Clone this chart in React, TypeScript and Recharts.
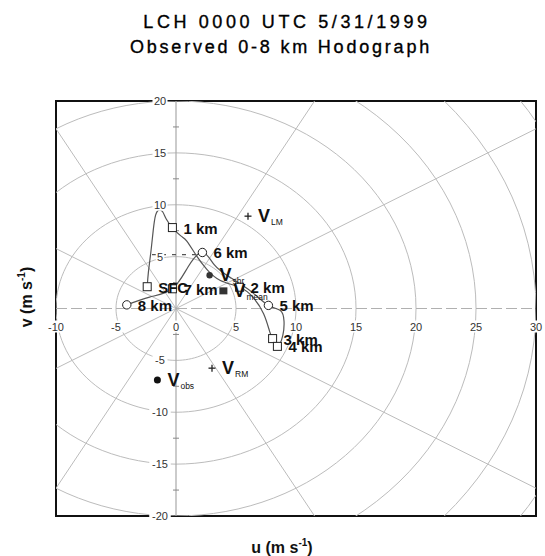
import React from "react";
import { ComposedChart, Line, Scatter, XAxis, YAxis, ReferenceArea } from "recharts";

const W = 545;
const H = 556;
const FONT = "'Liberation Sans', Arial, Helvetica, sans-serif";

const TITLE_LINES = ["LCH 0000 UTC 5/31/1999", "Observed 0-8 km Hodograph"];

const U_DOMAIN = [-10, 30];
const V_DOMAIN = [-20, 20];
const U_TICKS = [-10, -5, 0, 5, 10, 15, 20, 25, 30];
const V_TICKS = [-20, -15, -10, -5, 5, 10, 15, 20];
const V_MINOR = [-17.5, -12.5, -7.5, -2.5, 2.5, 7.5, 12.5, 17.5];
const RING_RADII = [5, 10, 15, 20, 25, 30, 35];
const SPOKE_ANGLES = [30, 60, 120, 150, 210, 240, 300, 330];

// hodograph trace (u, v in m/s)
const HODO_U = [-2.4, -2.3, -2.1, -1.9, -1.7, -1.4, -1.1, -0.8, -0.3, 0.4, 0.9, 1.7, 2.55, 3.7, 5.3, 6.4, 7.3, 7.8, 8.05, 8.45, 8.9, 9.0, 8.7, 7.7, 6.3, 4.5, 3.2, 2.2, 1.0, -0.3, -2.2, -4.1];
const HODO_V = [2.1, 3.5, 5.4, 7.5, 9.0, 9.5, 9.3, 8.6, 7.8, 7.0, 6.5, 5.1, 3.8, 2.7, 2.05, 1.1, -0.5, -2.2, -2.9, -3.65, -2.6, -1.2, -0.2, 0.3, 1.6, 3.0, 4.2, 5.4, 4.0, 1.9, 1.1, 0.35];

// height markers
const LEVEL_NAMES = ["SFC", "1 km", "2 km", "3 km", "4 km", "5 km", "6 km", "7 km", "8 km"];
const LEVEL_U = [-2.4, -0.3, 5.3, 8.05, 8.45, 7.7, 2.2, -0.3, -4.1];
const LEVEL_V = [2.1, 7.8, 2.05, -2.9, -3.65, 0.3, 5.4, 1.9, 0.35];
const LEVEL_MARK = ["s", "s", "s", "s", "s", "c", "c", "s", "c"];

// storm motion / mean wind markers
const STORM_SUB = ["LM", "RM", "obs", "shr", "mean"];
const STORM_U = [6.0, 3.0, -1.55, 2.8, 3.95];
const STORM_V = [8.9, -5.75, -6.9, 3.2, 1.7];
const STORM_MARK = ["plus", "plus", "dot", "dot", "sq"];

// dashed segment near v = 5
const DASH_U = [-2.0, 2.0];
const DASH_V = [5.2, 5.2];

const GRID = "#bcbcbc";

const ringData = RING_RADII.map((r) => {
  const pts: { u: number; v: number }[] = [];
  for (let a = 0; a <= 360; a += 3) {
    const t = (a * Math.PI) / 180;
    pts.push({ u: r * Math.cos(t), v: r * Math.sin(t) });
  }
  return pts;
});
const spokeData = SPOKE_ANGLES.map((a) => {
  const t = (a * Math.PI) / 180;
  return [
    { u: 0, v: 0 },
    { u: 60 * Math.cos(t), v: 60 * Math.sin(t) },
  ];
});
const hAxisData = [{ u: U_DOMAIN[0], v: 0 }, { u: U_DOMAIN[1], v: 0 }];
const vAxisData = [{ u: 0, v: V_DOMAIN[0] }, { u: 0, v: V_DOMAIN[1] }];
const minorData = V_MINOR.map((v) => ({ u: 0, v }));
const uLabelData = U_TICKS.map((u) => ({ u, v: 0, t: String(u) }));
const vLabelData = V_TICKS.map((v) => ({ u: 0, v, t: String(v) }));
const hodoData = HODO_U.map((u, i) => ({ u, v: HODO_V[i] }));
const levelData = LEVEL_NAMES.map((n, i) => ({ u: LEVEL_U[i], v: LEVEL_V[i], t: n, m: LEVEL_MARK[i] }));
const stormData = STORM_SUB.map((s, i) => ({ u: STORM_U[i], v: STORM_V[i], t: s, m: STORM_MARK[i] }));
const dashData = DASH_U.map((u, i) => ({ u, v: DASH_V[i] }));

const MinorTick = (p: any) => (
  <line x1={p.cx - 3} x2={p.cx + 3} y1={p.cy} y2={p.cy} stroke="#888" strokeWidth={1} />
);

const ULabel = (p: any) => {
  const t = p.payload.t;
  const w = t.length * 6.5 + 2;
  return (
    <g>
      <rect x={p.cx - w / 2} y={p.cy + 12} width={w} height={12} fill="#fff" />
      <text x={p.cx} y={p.cy + 22} textAnchor="middle" fontSize={11} fontFamily={FONT} fill="#333">
        {t}
      </text>
    </g>
  );
};

const VLabel = (p: any) => {
  const t = p.payload.t;
  const w = t.length * 6.5 + 2;
  return (
    <g>
      <rect x={p.cx - 16 - w / 2} y={p.cy - 6} width={w} height={12} fill="#fff" />
      <text x={p.cx - 16} y={p.cy + 4} textAnchor="middle" fontSize={11} fontFamily={FONT} fill="#333">
        {t}
      </text>
    </g>
  );
};

const LevelMark = (p: any) => {
  const { cx, cy, payload } = p;
  return (
    <g>
      {payload.m === "s" ? (
        <rect x={cx - 4} y={cy - 4} width={8} height={8} fill="#fff" stroke="#222" strokeWidth={1} />
      ) : (
        <circle cx={cx} cy={cy} r={4.2} fill="#fff" stroke="#222" strokeWidth={1} />
      )}
    </g>
  );
};

const LevelLabel = (p: any) => {
  const { cx, cy, payload } = p;
  return (
    <text x={cx + 11} y={cy + 6} fontSize={15} fontWeight="bold" fontFamily={FONT} fill="#111">
      {payload.t}
    </text>
  );
};

const StormMark = (p: any) => {
  const { cx, cy, payload } = p;
  let mark: React.ReactNode = null;
  if (payload.m === "plus") {
    mark = (
      <g stroke="#222" strokeWidth={1.3}>
        <line x1={cx - 3.5} x2={cx + 3.5} y1={cy} y2={cy} />
        <line x1={cx} x2={cx} y1={cy - 3.5} y2={cy + 3.5} />
      </g>
    );
  } else if (payload.m === "dot") {
    mark = <circle cx={cx} cy={cy} r={payload.t === "obs" ? 3.5 : 3.2} fill={payload.t === "obs" ? "#111" : "#333"} />;
  } else {
    mark = <rect x={cx - 4} y={cy - 3.5} width={8} height={7} fill="#333" />;
  }
  return (
    <g>
      {mark}
      <text x={cx + 10} y={cy + 6} fontFamily={FONT} fill="#111" fontWeight="bold">
        <tspan fontSize={18}>V</tspan>
        <tspan fontSize={8.5} dx={1} dy={3} fontWeight="normal">
          {payload.t}
        </tspan>
      </text>
    </g>
  );
};

const gridLine = { xAxisId: "g", yAxisId: "g", type: "linear" as const, dot: false, activeDot: false, isAnimationActive: false };

export default function App() {
  return (
    <div style={{ position: "absolute", left: 0, top: 0, width: W, height: H, background: "#fff" }}>
      <ComposedChart width={W} height={H} margin={{ top: 101, right: 9, bottom: 40, left: 56 }}>
        <XAxis xAxisId="g" type="number" dataKey="u" domain={U_DOMAIN} allowDataOverflow hide />
        <YAxis yAxisId="g" type="number" dataKey="v" domain={V_DOMAIN} allowDataOverflow hide />
        <XAxis type="number" dataKey="u" domain={U_DOMAIN} hide />
        <YAxis type="number" dataKey="v" domain={V_DOMAIN} hide />
        {ringData.map((d, i) => (
          <Line key={"ring" + i} data={d} dataKey="v" stroke={GRID} strokeWidth={1} {...gridLine} />
        ))}
        {spokeData.map((d, i) => (
          <Line key={"spoke" + i} data={d} dataKey="v" stroke={GRID} strokeWidth={1} {...gridLine} />
        ))}
        <Line data={hAxisData} dataKey="v" stroke="#b0b0b0" strokeWidth={1.2} strokeDasharray="11 4" {...gridLine} />
        <Line data={vAxisData} dataKey="v" stroke="#a8a8a8" strokeWidth={1.2} {...gridLine} />
        <Scatter data={minorData} dataKey="v" shape={MinorTick} isAnimationActive={false} />
        <Scatter data={uLabelData} dataKey="v" shape={ULabel} isAnimationActive={false} />
        <Scatter data={vLabelData} dataKey="v" shape={VLabel} isAnimationActive={false} />
        <Line data={dashData} dataKey="v" type="linear" stroke="#555" strokeWidth={1.2} strokeDasharray="4 6" dot={false} activeDot={false} isAnimationActive={false} />
        <Line data={hodoData} dataKey="v" type="natural" stroke="#555" strokeWidth={1.2} dot={false} activeDot={false} isAnimationActive={false} />
        <Scatter data={levelData} dataKey="v" shape={LevelMark} isAnimationActive={false} />
        <Scatter data={stormData} dataKey="v" shape={StormMark} isAnimationActive={false} />
        <Scatter data={levelData} dataKey="v" shape={LevelLabel} isAnimationActive={false} />
        <ReferenceArea x1={U_DOMAIN[0]} x2={U_DOMAIN[1]} y1={V_DOMAIN[0]} y2={V_DOMAIN[1]} fill="none" fillOpacity={0} stroke="#111" strokeWidth={2} ifOverflow="visible" />
      </ComposedChart>
      <svg width={W} height={H} style={{ position: "absolute", left: 0, top: 0, pointerEvents: "none" }}>
        <text x={287} y={28} textAnchor="middle" fontSize={18} fontFamily={FONT} letterSpacing={3.6} fill="#000" stroke="#000" strokeWidth={0.35}>
          {TITLE_LINES[0]}
        </text>
        <text x={281} y={53} textAnchor="middle" fontSize={18} fontFamily={FONT} letterSpacing={2.8} fill="#000" stroke="#000" strokeWidth={0.35}>
          {TITLE_LINES[1]}
        </text>
        <text x={282} y={553} textAnchor="middle" fontSize={16} fontWeight="bold" fontFamily={FONT} fill="#111">
          u (m s<tspan fontSize={10} dy={-7}>-1</tspan>
          <tspan dy={7}>)</tspan>
        </text>
        <text x={0} y={0} transform="translate(32,297) rotate(-90)" textAnchor="middle" fontSize={16} fontWeight="bold" fontFamily={FONT} fill="#111">
          v (m s<tspan fontSize={10} dy={-7}>-1</tspan>
          <tspan dy={7}>)</tspan>
        </text>
      </svg>
    </div>
  );
}
